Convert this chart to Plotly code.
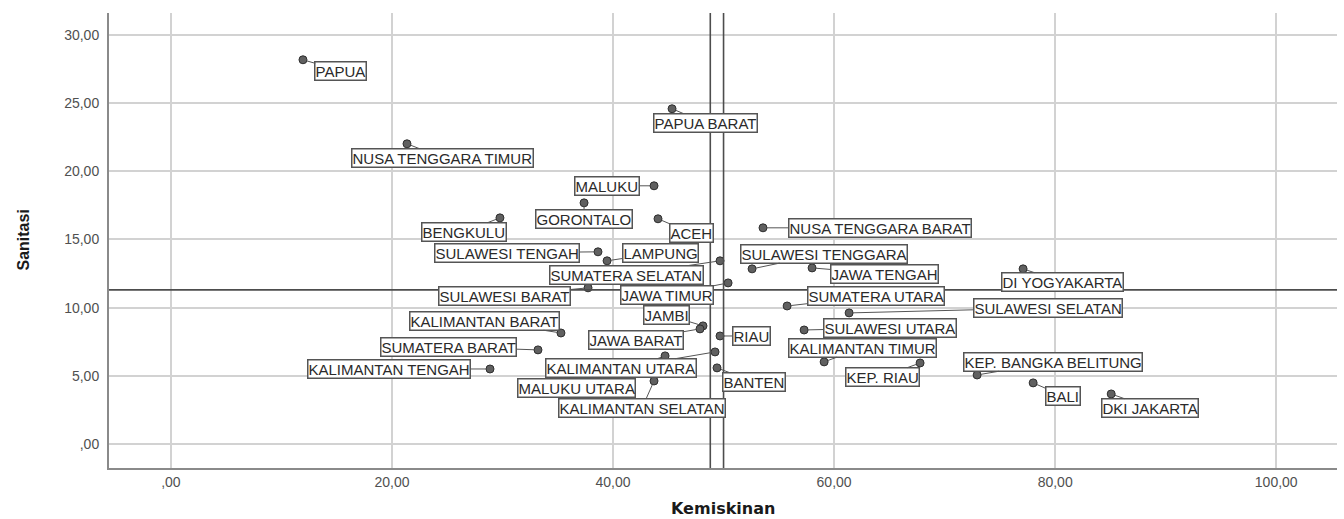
import plotly.graph_objects as go

provinces = [
    "PAPUA", "NUSA TENGGARA TIMUR", "PAPUA BARAT", "MALUKU", "GORONTALO", "ACEH",
    "BENGKULU", "NUSA TENGGARA BARAT", "SULAWESI TENGAH", "LAMPUNG", "SUMATERA SELATAN",
    "SULAWESI TENGGARA", "JAWA TENGAH", "DI YOGYAKARTA", "JAWA TIMUR", "SULAWESI BARAT",
    "SUMATERA UTARA", "SULAWESI SELATAN", "SULAWESI UTARA", "KALIMANTAN BARAT", "JAMBI",
    "JAWA BARAT", "RIAU", "SUMATERA BARAT", "KALIMANTAN TENGAH", "KALIMANTAN SELATAN",
    "MALUKU UTARA", "KALIMANTAN UTARA", "BANTEN", "KALIMANTAN TIMUR", "KEP. RIAU",
    "KEP. BANGKA BELITUNG", "BALI", "DKI JAKARTA",
]
kemiskinan = [
    11.95, 21.36, 45.34, 43.71, 37.38, 44.07,
    29.77, 53.57, 38.64, 39.46, 49.68,
    52.58, 58.01, 77.10, 50.41, 37.74,
    55.75, 61.36, 57.29, 35.29, 48.14,
    47.87, 49.68, 33.21, 28.87, 43.71,
    44.71, 49.23, 49.41, 59.10, 67.78,
    72.94, 78.01, 85.07,
]
sanitasi = [
    28.17, 22.01, 24.58, 18.93, 17.68, 16.51,
    16.58, 15.85, 14.09, 13.43, 13.43,
    12.84, 12.91, 12.84, 11.81, 11.45,
    10.12, 9.61, 8.36, 8.14, 8.66,
    8.44, 7.92, 6.90, 5.50, 4.62,
    6.46, 6.75, 5.58, 6.02, 5.94,
    5.06, 4.48, 3.67,
]
ref_x_lines = [48.8, 50.0]
ref_y_line = 11.3

x_tickvals = [0, 20, 40, 60, 80, 100]
x_ticktext = [",00", "20,00", "40,00", "60,00", "80,00", "100,00"]
y_tickvals = [0, 5, 10, 15, 20, 25, 30]
y_ticktext = [",00", "5,00", "10,00", "15,00", "20,00", "25,00", "30,00"]

# label placement offsets (pixels, label centre relative to point)
label_offsets = [
    (38, 11), (36, 14), (33, 14), (-47, 0), (0, 16), (33, 14),
    (-36, 14), (117, 0), (-91, 1), (53, -8), (-94, 14),
    (72, -15), (72, 6), (39, 13), (-61, 12), (-84, 8),
    (89, -10), (199, -5), (86, -2), (-76, -12), (-36, -11),
    (-64, 11), (31, 0), (-89, -3), (-101, 0), (-12, 27),
    (-89, 32), (-94, 16), (37, 14), (38, -14), (-38, 14),
    (76, -13), (30, 13), (39, 14),
]

fig = go.Figure()
fig.add_trace(go.Scatter(
    x=kemiskinan, y=sanitasi, mode="markers", text=provinces,
    marker=dict(size=8, color="#606060", line=dict(color="#2e2e2e", width=1)),
    hoverinfo="text+x+y", showlegend=False,
))

shapes = []
for xv in ref_x_lines:
    shapes.append(dict(type="line", xref="x", yref="paper", x0=xv, x1=xv, y0=0, y1=1,
                       line=dict(color="#4d4d4d", width=1.6), layer="above"))
shapes.append(dict(type="line", xref="paper", yref="y", x0=0, x1=1, y0=ref_y_line, y1=ref_y_line,
                   line=dict(color="#4d4d4d", width=1.6), layer="above"))

annotations = []
for name, xv, yv, (ox, oy) in zip(provinces, kemiskinan, sanitasi, label_offsets):
    annotations.append(dict(
        x=xv, y=yv, xref="x", yref="y", text=name, showarrow=True,
        ax=ox, ay=oy, arrowhead=0, arrowwidth=1, arrowcolor="#555555", standoff=4,
        font=dict(family="Liberation Sans, Arial, sans-serif", size=15, color="#2a2a2a"),
        bgcolor="white", bordercolor="#555555", borderwidth=1.5, borderpad=0,
    ))

annotations.append(dict(
    text="Sanitasi", xref="paper", yref="paper", x=0, y=0.5, xshift=-86,
    showarrow=False, textangle=-90, xanchor="center", yanchor="middle",
    font=dict(family="Liberation Sans, Arial, sans-serif", size=16, color="#1a1a1a", weight="bold"),
))
annotations.append(dict(
    text="Kemiskinan", xref="paper", yref="paper", x=0.5, y=0, yshift=-40,
    showarrow=False, xanchor="center", yanchor="middle",
    font=dict(family="DejaVu Sans, sans-serif", size=16, color="#1a1a1a", weight="bold"),
))

fig.update_layout(
    width=1344, height=519,
    margin=dict(l=109, r=7, t=13, b=51),
    paper_bgcolor="white", plot_bgcolor="white",
    shapes=shapes, annotations=annotations,
    xaxis=dict(range=[-5.6, 105.5], tickvals=x_tickvals, ticktext=x_ticktext,
               showgrid=True, gridcolor="#d2d2d2", gridwidth=1.5, zeroline=False,
               showline=True, linecolor="#8a8a8a", linewidth=2, ticks="",
               tickfont=dict(family="Liberation Sans, Arial, sans-serif", size=14, color="#505050")),
    yaxis=dict(range=[-1.76, 31.6], tickvals=y_tickvals, ticktext=y_ticktext,
               showgrid=True, gridcolor="#d2d2d2", gridwidth=1.5, zeroline=False,
               showline=True, linecolor="#8a8a8a", linewidth=2, ticks="", ticklabelstandoff=5,
               tickfont=dict(family="Liberation Sans, Arial, sans-serif", size=14, color="#505050")),
)

fig.write_html("out.html", config={"displayModeBar": False},
               post_script="document.body.style.margin='0';document.body.style.overflow='hidden';")
